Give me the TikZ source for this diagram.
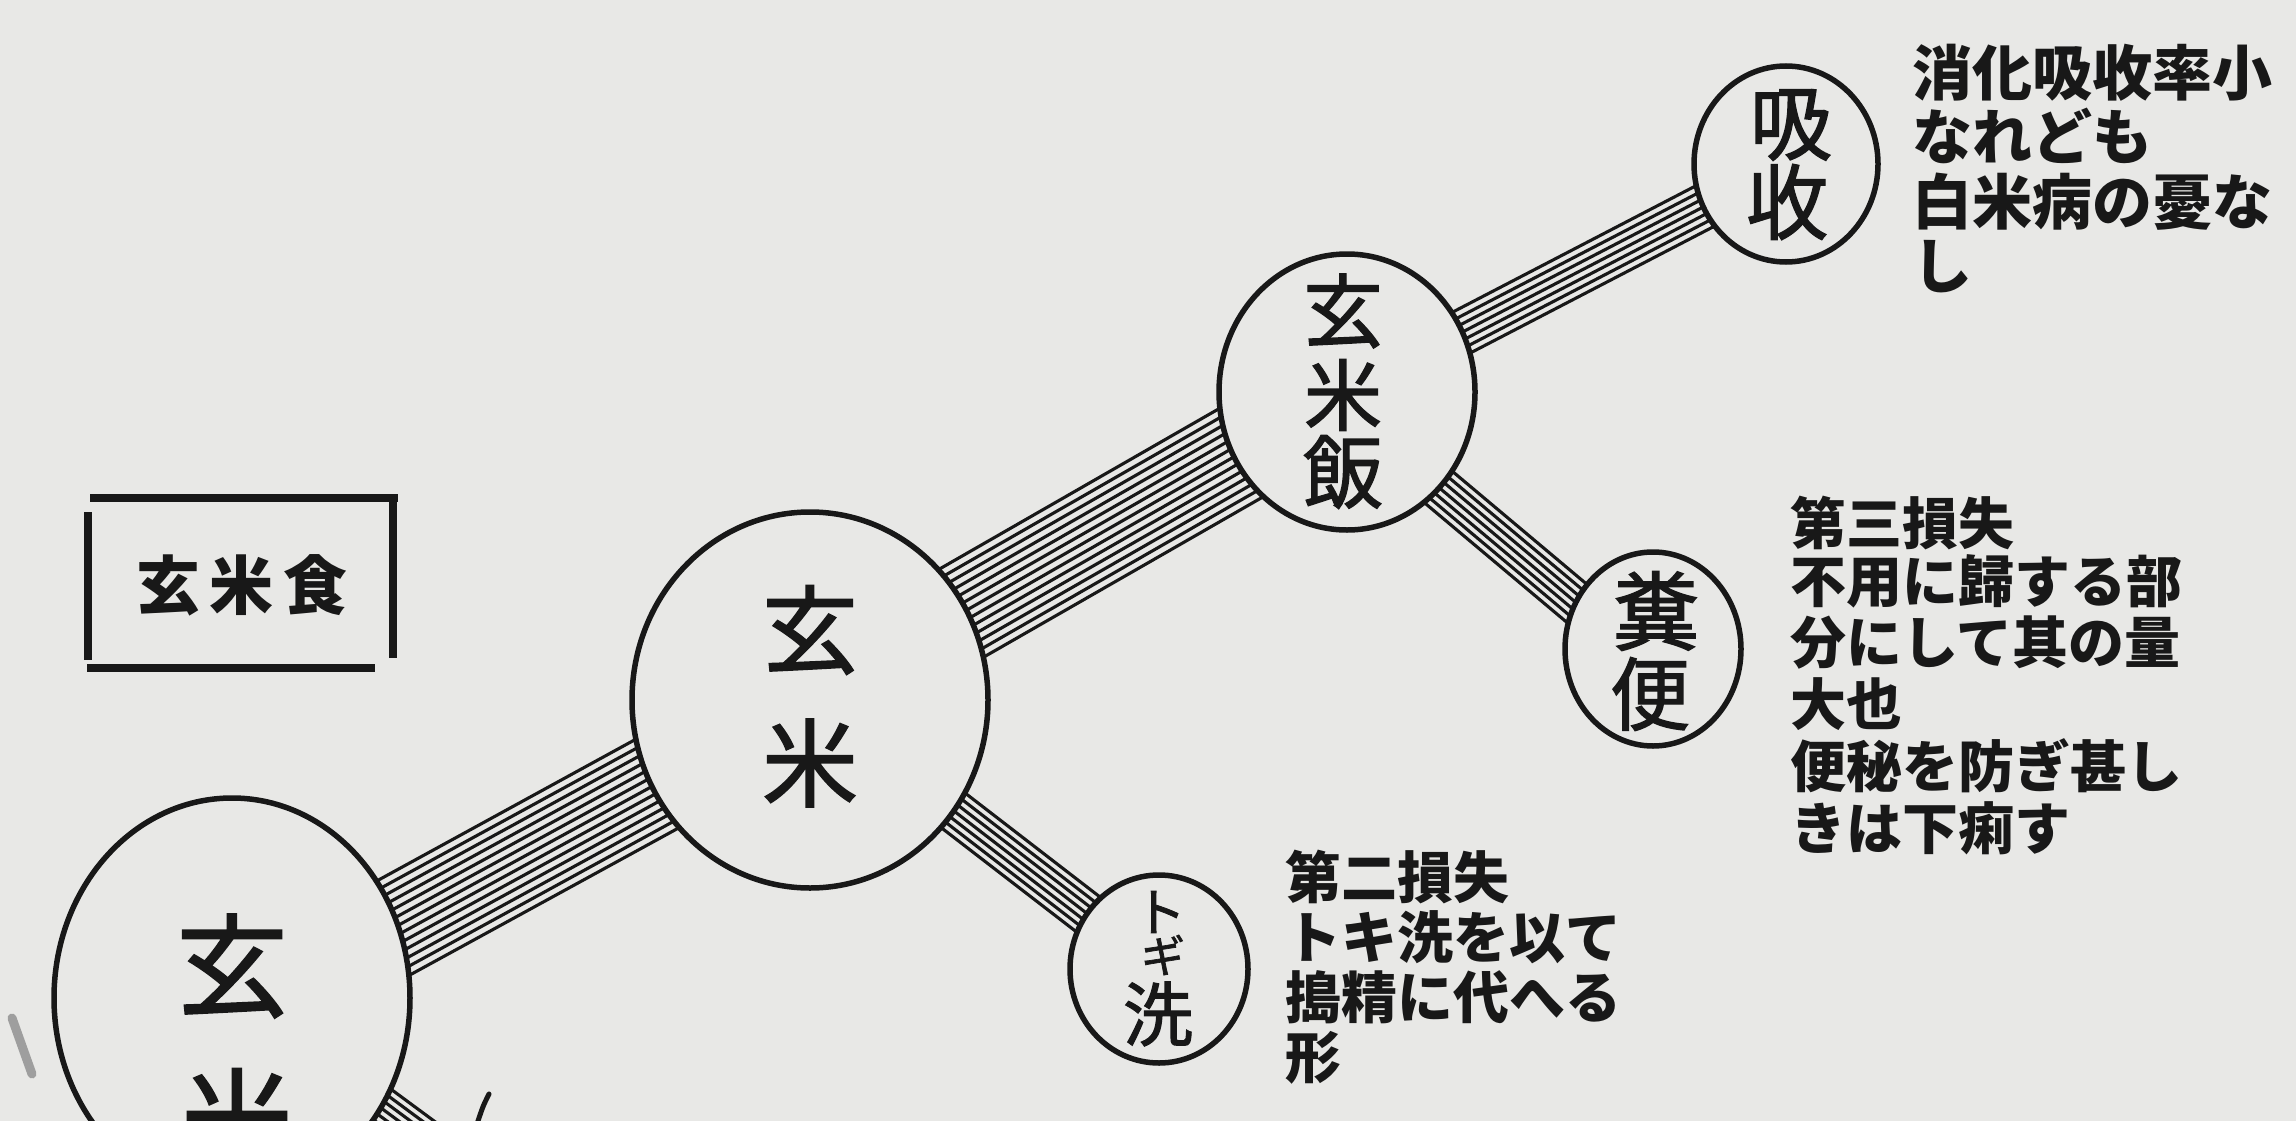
\documentclass[tikz,border=0pt]{standalone}
\usepackage{fontspec}
\newfontfamily\cjk{Noto Sans CJK JP}
\newfontfamily\cjkm{Noto Sans CJK JP}[FakeBold=1.6]
\usetikzlibrary{shapes.geometric,calc}
\pgfdeclarelayer{back}
\pgfdeclarelayer{bands}
\pgfsetlayers{back,bands,main}
\definecolor{paper}{RGB}{232,232,230}
\definecolor{ink}{RGB}{24,24,24}
\tikzset{
  disc/.style={ellipse, draw=ink, fill=paper, line width=5.5pt, inner sep=0pt},
  lbl/.style={inner sep=0pt, text=ink},
  note/.style={anchor=base west, inner sep=0pt, text=ink, font=\cjk\bfseries\fontsize{56pt}{60pt}\selectfont},
  hatch/.style={draw=ink, line width=3.1pt},
  frame/.style={draw=ink, line width=7.5pt},
}
\newcommand\hatchband[6]{%
  \foreach \i in {1,...,#3}{%
    \pgfmathsetmacro\oa{#5+(\i-(#3+1)/2)*#4}%
    \pgfmathsetmacro\ob{#6+(\i-(#3+1)/2)*#4}%
    \draw[hatch] ($(#1)!\oa pt!90:(#2)$) -- ($(#2)!\ob pt!-90:(#1)$);}}
\begin{document}
\begin{tikzpicture}[x=1pt,y=-1pt]
\begin{pgfonlayer}{back}
\path[use as bounding box, fill=paper] (0,0) rectangle (2296,1121);
\end{pgfonlayer}
\clip (0,0) rectangle (2296,1121);

% circles
\node[disc, minimum width=356pt, minimum height=400pt] (big) at (232,998) {};
\node[disc, minimum width=356pt, minimum height=376pt] (mid) at (810,700) {};
\node[disc, minimum width=256pt, minimum height=276pt] (rice) at (1347,392) {};
\node[disc, minimum width=184pt, minimum height=196pt] (abs) at (1786,164) {};
\node[disc, minimum width=176pt, minimum height=194pt] (feces) at (1653,649) {};
\node[disc, minimum width=178pt, minimum height=188pt] (wash) at (1159,969) {};
\coordinate (offend) at (560,1240);

% bands
\begin{pgfonlayer}{bands}
\clip (0,0) rectangle (2296,1121);
\hatchband{big.center}{mid.center}{13}{8.2}{-16}{0}
\hatchband{mid.center}{rice.center}{13}{8.2}{0}{0}
\hatchband{rice.center}{abs.center}{7}{7.4}{0}{0}
\hatchband{rice.center}{feces.center}{7}{7}{-14}{-14}
\hatchband{mid.center}{wash.center}{7}{7}{0}{0}
\hatchband{big.center}{offend}{7}{7}{0}{0}
\end{pgfonlayer}

% circle labels
\node[lbl, font=\cjkm\fontsize{112pt}{112pt}\selectfont] (big1) at (232,966) {玄};
\node[lbl, font=\cjkm\fontsize{112pt}{112pt}\selectfont] (big2) at (237,1120) {米};
\node[lbl, font=\cjkm\fontsize{96pt}{96pt}\selectfont] (mid1) at (810,630) {玄};
\node[lbl, font=\cjkm\fontsize{96pt}{96pt}\selectfont] (mid2) at (810,763) {米};
\node[lbl, font=\cjkm\fontsize{80pt}{80pt}\selectfont] (rice1) at (1343,311) {玄};
\node[lbl, font=\cjkm\fontsize{78pt}{78pt}\selectfont] (rice2) at (1343,395) {米};
\node[lbl, font=\cjkm\fontsize{80pt}{80pt}\selectfont] (rice3) at (1343,472) {飯};
\node[lbl, font=\cjkm\fontsize{82pt}{82pt}\selectfont] (abs1) at (1791,125) {吸};
\node[lbl, font=\cjkm\fontsize{82pt}{82pt}\selectfont] (abs2) at (1787,202) {收};
\node[lbl, font=\cjkm\fontsize{86pt}{86pt}\selectfont] (feces1) at (1656,611) {糞};
\node[lbl, font=\cjkm\fontsize{80pt}{80pt}\selectfont] (feces2) at (1650,694) {便};
\node[lbl, font=\cjkm\fontsize{52pt}{52pt}\selectfont] (wash1) at (1160,912) {ト};
\node[lbl, font=\cjkm\fontsize{44pt}{44pt}\selectfont] (wash2) at (1163,955) {ギ};
\node[lbl, font=\cjkm\fontsize{70pt}{70pt}\selectfont] (wash3) at (1158,1014) {洗};

% title box
\draw[frame] (90,498) -- (398,498);
\draw[frame] (393,498) -- (393,658);
\draw[frame] (87,668) -- (375,668);
\draw[frame] (88,512) -- (88,660);
\node[lbl, font=\cjk\bfseries\fontsize{64pt}{64pt}\selectfont] (title) at (242,585) {玄\hspace{10pt}米\hspace{10pt}食};

% notes
\node[note, font=\cjk\bfseries\fontsize{60pt}{64pt}\selectfont] (n1a) at (1912,96) {消化吸收率小};
\node[note, font=\cjk\bfseries\fontsize{60pt}{64pt}\selectfont] (n1b) at (1912,160) {なれども};
\node[note, font=\cjk\bfseries\fontsize{60pt}{64pt}\selectfont] (n1c) at (1912,224) {白米病の憂な};
\node[note, font=\cjk\bfseries\fontsize{60pt}{64pt}\selectfont] (n1d) at (1912,288) {し};

\node[note] (n2a) at (1790,544) {第三損失};
\node[note] (n2b) at (1790,602) {不用に歸する部};
\node[note] (n2c) at (1790,663) {分にして其の量};
\node[note] (n2d) at (1790,725) {大也};
\node[note] (n2e) at (1790,787) {便秘を防ぎ甚し};
\node[note] (n2f) at (1790,849) {きは下痢す};

\node[note] (n3a) at (1285,898) {第二損失};
\node[note] (n3b) at (1285,958) {トキ洗を以て};
\node[note] (n3c) at (1285,1018) {搗精に代へる};
\node[note] (n3d) at (1285,1078) {形};

% partial marks at the bottom edge
\draw[ink, line width=5pt, line cap=round] (489,1094) .. controls (483,1106) .. (477,1124);
\draw[ink!55, line width=9pt, line cap=round, opacity=0.7] (12,1018) -- (32,1074);
\end{tikzpicture}
\end{document}
